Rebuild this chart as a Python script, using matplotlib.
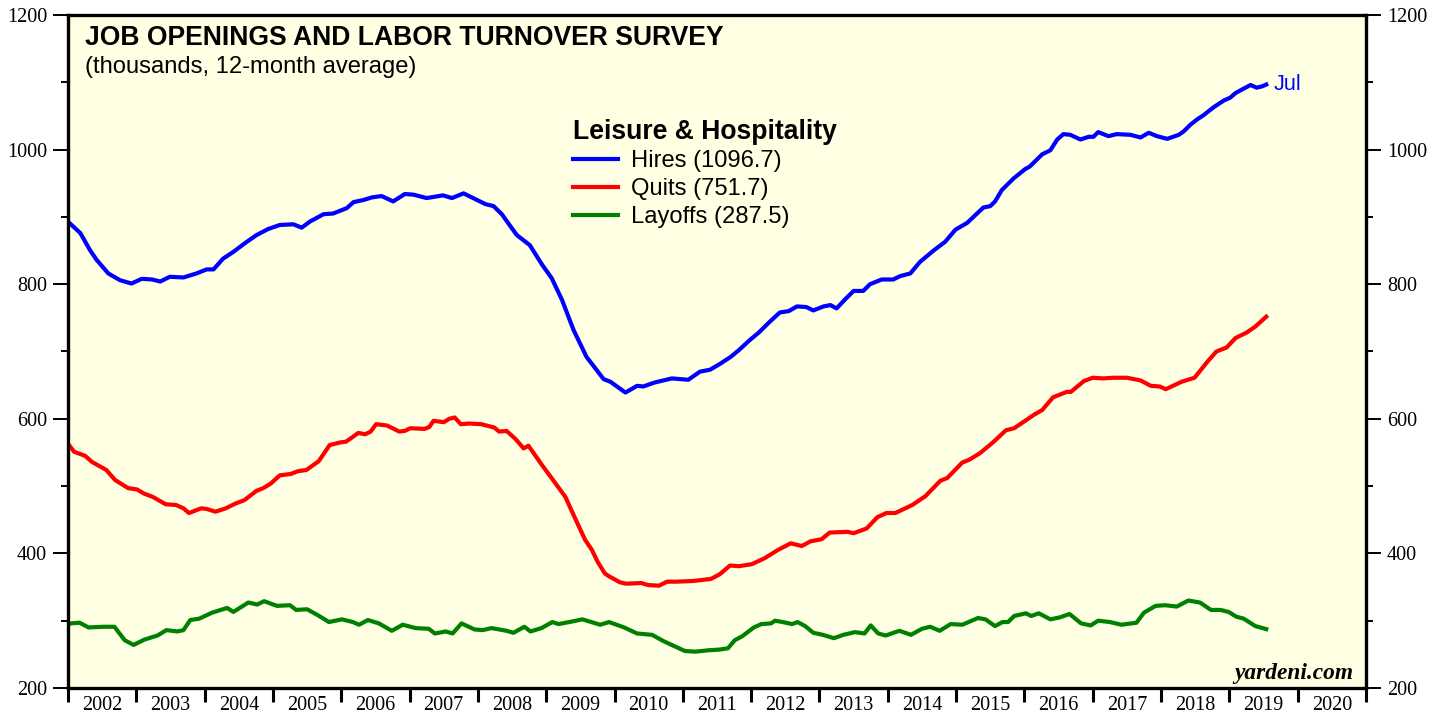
import numpy as np
import matplotlib.pyplot as plt
from matplotlib.ticker import FixedLocator, FixedFormatter, MultipleLocator, NullFormatter

# values (thousands, 12-month average), x in decimal years
hires_t = [2002.00, 2002.18, 2002.32, 2002.42, 2002.59, 2002.76, 2002.93, 2003.08, 2003.23, 2003.35,
           2003.49, 2003.69, 2003.88, 2004.03, 2004.13, 2004.27, 2004.42, 2004.59, 2004.76, 2004.93,
           2005.10, 2005.30, 2005.42, 2005.54, 2005.74, 2005.88, 2006.08, 2006.18, 2006.32, 2006.45,
           2006.59, 2006.76, 2006.93, 2007.06, 2007.25, 2007.49, 2007.62, 2007.79, 2007.93, 2008.11,
           2008.23, 2008.35, 2008.47, 2008.57, 2008.76, 2008.94, 2009.08, 2009.23, 2009.40, 2009.59,
           2009.84, 2009.94, 2010.16, 2010.33, 2010.42, 2010.59, 2010.84, 2011.08, 2011.25, 2011.40,
           2011.55, 2011.70, 2011.82, 2011.98, 2012.11, 2012.27, 2012.42, 2012.55, 2012.67, 2012.81,
           2012.91, 2013.06, 2013.16, 2013.25, 2013.38, 2013.50, 2013.64, 2013.74, 2013.91, 2014.08,
           2014.18, 2014.33, 2014.47, 2014.67, 2014.84, 2014.99, 2015.16, 2015.40, 2015.50, 2015.57,
           2015.67, 2015.84, 2016.01, 2016.08, 2016.26, 2016.38, 2016.48, 2016.57, 2016.67, 2016.82,
           2016.94, 2017.01, 2017.08, 2017.23, 2017.35, 2017.55, 2017.70, 2017.82, 2017.94, 2018.09,
           2018.26, 2018.33, 2018.43, 2018.53, 2018.62, 2018.77, 2018.92, 2019.01, 2019.09, 2019.18,
           2019.31, 2019.40, 2019.48, 2019.54]
hires_v = [893, 876, 851, 836, 816, 806, 801, 808, 807, 804,
           811, 810, 816, 822, 822, 838, 848, 861, 873, 882,
           888, 889, 884, 893, 904, 905, 913, 922, 925, 929,
           931, 923, 934, 933, 928, 932, 928, 935, 928, 919,
           916, 904, 887, 873, 858, 829, 809, 777, 732, 692,
           659, 655, 639, 649, 648, 654, 660, 658, 670, 673,
           682, 692, 702, 717, 728, 744, 758, 760, 767, 766,
           761, 767, 769, 764, 778, 790, 790, 800, 807, 807,
           812, 816, 833, 850, 863, 881, 891, 914, 916, 923,
           940, 957, 971, 975, 993, 999, 1015, 1023, 1022, 1015,
           1019, 1019, 1026, 1020, 1023, 1022, 1018, 1025, 1020, 1016,
           1022, 1027, 1037, 1045, 1051, 1063, 1073, 1077, 1084, 1089,
           1096, 1092, 1094, 1096.7]

quits_t = [2002.00, 2002.09, 2002.25, 2002.35, 2002.56, 2002.69, 2002.88, 2003.01, 2003.11, 2003.24,
           2003.43, 2003.58, 2003.69, 2003.77, 2003.95, 2004.03, 2004.16, 2004.31, 2004.45, 2004.58,
           2004.76, 2004.86, 2004.97, 2005.10, 2005.26, 2005.36, 2005.49, 2005.67, 2005.83, 2005.99,
           2006.07, 2006.25, 2006.35, 2006.43, 2006.51, 2006.67, 2006.85, 2006.93, 2007.01, 2007.22,
           2007.29, 2007.35, 2007.50, 2007.58, 2007.66, 2007.75, 2007.87, 2008.05, 2008.24, 2008.31,
           2008.42, 2008.55, 2008.67, 2008.74, 2008.94, 2009.10, 2009.28, 2009.41, 2009.57, 2009.67,
           2009.75, 2009.86, 2009.92, 2010.08, 2010.17, 2010.39, 2010.49, 2010.65, 2010.77, 2010.90,
           2011.15, 2011.41, 2011.54, 2011.69, 2011.82, 2012.01, 2012.20, 2012.39, 2012.58, 2012.74,
           2012.87, 2013.03, 2013.15, 2013.41, 2013.50, 2013.69, 2013.85, 2013.98, 2014.11, 2014.36,
           2014.55, 2014.77, 2014.87, 2015.09, 2015.19, 2015.35, 2015.54, 2015.73, 2015.85, 2016.04,
           2016.14, 2016.26, 2016.42, 2016.62, 2016.68, 2016.87, 2017.00, 2017.15, 2017.31, 2017.50,
           2017.70, 2017.85, 2017.98, 2018.07, 2018.30, 2018.49, 2018.68, 2018.81, 2018.96, 2019.09,
           2019.25, 2019.38, 2019.54]
quits_v = [563, 551, 545, 536, 524, 509, 497, 495, 489, 484,
           473, 472, 467, 460, 467, 466, 462, 467, 474, 479,
           493, 497, 504, 516, 518, 522, 524, 537, 561, 565,
           566, 579, 577, 581, 592, 590, 581, 582, 586, 585,
           588, 597, 595, 600, 602, 592, 593, 592, 587, 581,
           582, 570, 556, 560, 531, 509, 484, 455, 420, 405,
           388, 370, 366, 357, 355, 356, 353, 352, 358, 358,
           359, 362, 369, 382, 381, 384, 393, 405, 415, 411,
           418, 421, 431, 432, 430, 437, 454, 460, 460, 472,
           485, 508, 512, 535, 539, 549, 565, 583, 586, 599,
           606, 613, 632, 640, 640, 656, 661, 660, 661, 661,
           657, 649, 648, 644, 655, 661, 685, 700, 706, 720,
           728, 737, 751.7]

layoffs_t = [2002.00, 2002.04, 2002.17, 2002.30, 2002.52, 2002.68, 2002.83, 2002.96, 2003.12, 2003.31,
             2003.44, 2003.60, 2003.69, 2003.79, 2003.92, 2004.11, 2004.33, 2004.42, 2004.64, 2004.77,
             2004.87, 2005.06, 2005.25, 2005.34, 2005.50, 2005.66, 2005.82, 2006.01, 2006.17, 2006.26,
             2006.39, 2006.55, 2006.74, 2006.90, 2007.09, 2007.28, 2007.37, 2007.53, 2007.63, 2007.76,
             2007.95, 2008.07, 2008.20, 2008.42, 2008.52, 2008.68, 2008.77, 2008.93, 2009.09, 2009.18,
             2009.34, 2009.53, 2009.79, 2009.92, 2010.14, 2010.33, 2010.55, 2010.71, 2010.90, 2011.03,
             2011.18, 2011.28, 2011.37, 2011.53, 2011.66, 2011.76, 2011.87, 2012.04, 2012.15, 2012.29,
             2012.35, 2012.46, 2012.60, 2012.68, 2012.79, 2012.91, 2013.05, 2013.21, 2013.35, 2013.52,
             2013.66, 2013.75, 2013.86, 2013.97, 2014.17, 2014.34, 2014.50, 2014.62, 2014.76, 2014.92,
             2015.09, 2015.32, 2015.43, 2015.57, 2015.68, 2015.76, 2015.85, 2016.02, 2016.10, 2016.21,
             2016.38, 2016.52, 2016.66, 2016.83, 2016.97, 2017.08, 2017.25, 2017.42, 2017.64, 2017.75,
             2017.92, 2018.06, 2018.23, 2018.40, 2018.57, 2018.73, 2018.87, 2018.99, 2019.10, 2019.21,
             2019.38, 2019.54]
layoffs_v = [294, 296, 297, 290, 291, 291, 271, 264, 272, 278,
             286, 284, 286, 301, 303, 312, 319, 313, 327, 324,
             329, 322, 323, 316, 317, 308, 298, 302, 298, 294,
             301, 296, 285, 294, 289, 288, 281, 284, 281, 296,
             287, 286, 289, 285, 282, 291, 284, 289, 298, 295,
             298, 302, 294, 298, 290, 281, 279, 270, 261, 255,
             254, 255, 256, 257, 259, 271, 277, 290, 295, 296,
             300, 298, 295, 298, 292, 282, 279, 274, 279, 283,
             281, 293, 281, 278, 285, 279, 288, 291, 285, 295,
             294, 304, 302, 292, 298, 298, 307, 311, 307, 311,
             302, 305, 310, 296, 293, 300, 298, 294, 297, 312,
             322, 323, 321, 330, 327, 316, 316, 313, 306, 303,
             292, 287.5]

series_names = ["Hires", "Quits", "Layoffs"]
series_colors = ["#0000FF", "#FF0000", "#008000"]
years = list(range(2002, 2021))
last_month = "Jul"

BG = "#FFFFE3"


def main() -> int:
    fig = plt.figure(figsize=(14.46, 7.19), dpi=100)
    ax = fig.add_axes([68 / 1446, 1 - 688 / 719, 1298 / 1446, 673 / 719])
    ax.set_facecolor(BG)

    data = [(hires_t, hires_v), (quits_t, quits_v), (layoffs_t, layoffs_v)]
    for (t, v), name, col in zip(data, series_names, series_colors):
        ax.plot(t, v, color=col, lw=3.0, solid_joinstyle="round",
                label=f"{name} ({v[-1]:.1f})")

    ax.set_xlim(years[0], years[-1] + 1)
    ax.set_ylim(200, 1200)

    # y axis on both sides, serif labels
    ax.yaxis.set_major_locator(MultipleLocator(200))
    ax.yaxis.set_minor_locator(MultipleLocator(100))
    ax.tick_params(axis="y", which="both", direction="out", left=True, right=True,
                   labelleft=True, labelright=True, labelsize=14.5,
                   labelfontfamily="Liberation Serif", width=1.4, color="black")
    ax.tick_params(axis="y", which="major", length=11, pad=4)
    ax.tick_params(axis="y", which="minor", length=5)

    # x axis: ticks at year boundaries, labels centred on each year
    ax.xaxis.set_major_locator(FixedLocator([y for y in years] + [years[-1] + 1]))
    ax.xaxis.set_major_formatter(NullFormatter())
    ax.xaxis.set_minor_locator(FixedLocator([y + 0.5 for y in years]))
    ax.xaxis.set_minor_formatter(FixedFormatter([str(y) for y in years]))
    ax.tick_params(axis="x", which="major", direction="out", length=10, width=2.2)
    ax.tick_params(axis="x", which="minor", length=0, pad=6, labelsize=14.5,
                   labelfontfamily="Liberation Serif")

    for s in ax.spines.values():
        s.set_linewidth(2.4)
        s.set_color("black")

    ax.text(0.013, 0.985, "JOB OPENINGS AND LABOR TURNOVER SURVEY", transform=ax.transAxes,
            ha="left", va="top", fontsize=19.1, fontweight="bold", family="Liberation Sans")
    ax.text(0.013, 0.939, "(thousands, 12-month average)", transform=ax.transAxes,
            ha="left", va="top", fontsize=17.1, family="Liberation Sans")

    leg = ax.legend(loc="upper left", bbox_to_anchor=(0.389, 0.846), frameon=False,
                    title="Leisure & Hospitality", alignment="left",
                    prop={"family": "Liberation Sans", "size": 17.1},
                    handlelength=1.9, handletextpad=0.55, labelspacing=0.25,
                    borderpad=0, borderaxespad=0)
    leg.get_title().set_fontproperties({"family": "Liberation Sans", "size": 19.1,
                                        "weight": "bold"})
    leg._legend_box.sep = 4

    ax.annotate(last_month, xy=(hires_t[-1], hires_v[-1]), xytext=(5, 0),
                textcoords="offset points", ha="left", va="center",
                color=series_colors[0], fontsize=15.5, family="Liberation Sans")

    ax.text(0.99, 0.014, "yardeni.com", transform=ax.transAxes, ha="right", va="baseline",
            fontsize=16.8, fontweight="bold", fontstyle="italic", family="Liberation Serif")

    fig.savefig("out.png", dpi=100, facecolor="white")
    plt.close(fig)
    return 0


if __name__ == "__main__":
    raise SystemExit(main())
